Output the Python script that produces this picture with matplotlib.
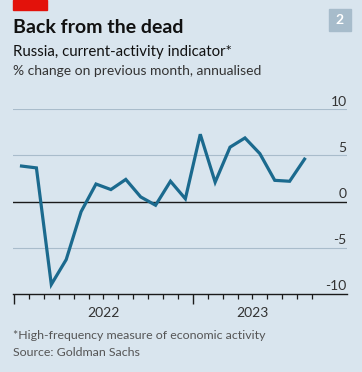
import matplotlib
matplotlib.use("Agg")
import matplotlib.pyplot as plt
import matplotlib.patches as mpatches

# monthly values, Jan 2022 .. Aug 2023
months = list(range(20))
values = [3.85, 3.65, -9.0, -6.3, -1.1, 1.9, 1.3, 2.4, 0.5, -0.4,
          2.2, 0.3, 7.3, 2.1, 5.9, 6.9, 5.2, 2.3, 2.2, 4.6]
yticks = [-10, -5, 0, 5, 10]
year_labels = ["2022", "2023"]
year_pos = [6, 16]

bg = "#d9e5ee"
line_col = "#1b6a8e"
grid_col = "#a9bccb"
text_col = "#333333"
plt.rcParams["font.family"] = ["Lato", "DejaVu Sans"]

W, H = 362, 372
fig = plt.figure(figsize=(3.62, 3.72), dpi=100)
fig.patch.set_facecolor(bg)
ax = fig.add_axes([0.0368, 0.2105, 0.9209, 0.4955])
ax.set_facecolor(bg)

# red tag + chart number
fig.patches.append(mpatches.Rectangle((13/W, 1 - 10/H), 34/W, 10/H,
                                      transform=fig.transFigure, color="#e3120b"))
fig.patches.append(mpatches.Rectangle((329/W, 1 - 31/H), 22/W, 22/H,
                                      transform=fig.transFigure, color="#a7bccb"))
fig.text(340/W, 1 - 20/H, "2", color="white", fontsize=10, fontweight="bold",
         ha="center", va="center")

# header / footer, positioned by baseline
fig.text(13/W, 1 - 33/H, "Back from the dead", fontsize=14, fontweight="bold",
         color="#111111", va="baseline")
fig.text(13/W, 1 - 56/H, "Russia, current-activity indicator*", fontsize=10.8,
         color="#111111", va="baseline")
fig.text(13/W, 1 - 75/H, "% change on previous month, annualised", fontsize=10,
         color=text_col, va="baseline")
fig.text(13/W, 1 - 339/H, "*High-frequency measure of economic activity", fontsize=8.9,
         color="#555555", va="baseline")
fig.text(13/W, 1 - 356.5/H, "Source: Goldman Sachs", fontsize=8.9,
         color="#555555", va="baseline")

for y in yticks:
    if y == 0:
        ax.axhline(y, color="#1a1a1a", lw=1.0, zorder=2)
    elif y != -10:
        ax.axhline(y, color=grid_col, lw=0.8, zorder=1)
    ax.text(1.0, y + 0.35, str(y), transform=ax.get_yaxis_transform(),
            ha="right", va="baseline", fontsize=10, color=text_col)

x = [m + 0.5 for m in months]
ax.plot(x, values, color=line_col, lw=2.3, zorder=3, solid_joinstyle="miter")

ax.set_xlim(-0.05, 22.33)
ax.set_ylim(-10, 10)
for s in ["top", "right", "left"]:
    ax.spines[s].set_visible(False)
ax.spines["bottom"].set_color("#1a1a1a")
ax.spines["bottom"].set_linewidth(1.0)
ax.set_yticks([])
ax.set_xticks([0, 12])
ax.set_xticks(range(0, 21), minor=True)
ax.tick_params(axis="x", which="major", length=7.5, width=1.0, color="#1a1a1a", labelbottom=False)
ax.tick_params(axis="x", which="minor", length=3.8, width=0.9, color="#1a1a1a")
for lab, p in zip(year_labels, year_pos):
    ax.text(p, -12.5, lab, ha="center", va="baseline", fontsize=10, color=text_col)

fig.savefig("out.png", dpi=100, facecolor=bg)
